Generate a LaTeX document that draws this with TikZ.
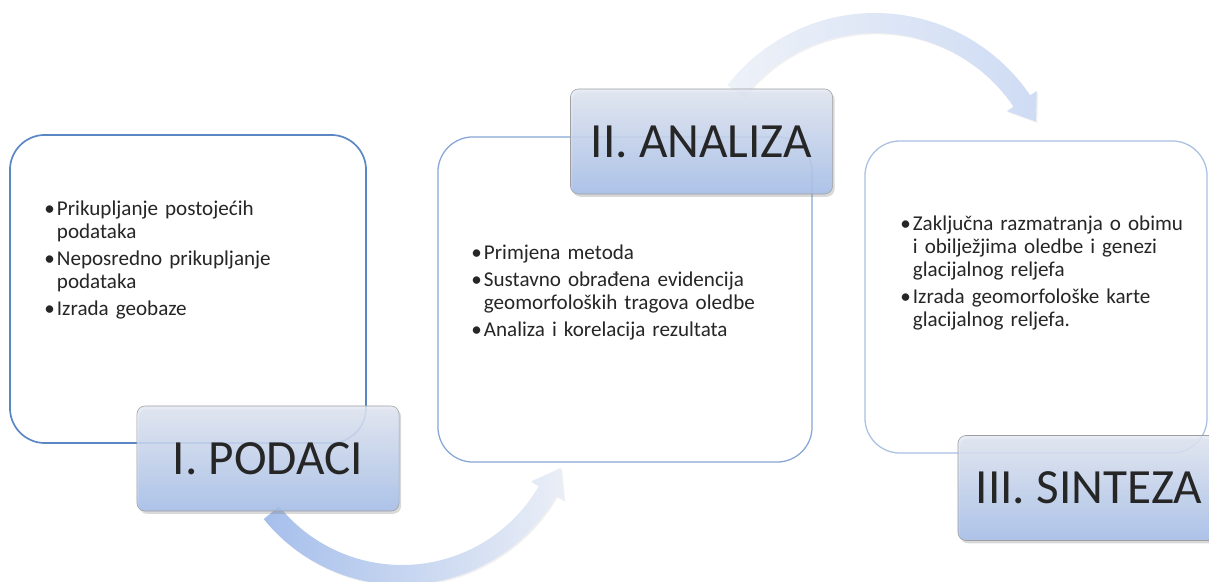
\documentclass[tikz,border=0pt]{standalone}
\usepackage{fontspec}
\setmainfont{Carlito}
\usetikzlibrary{shadows}

\definecolor{okvirA}{HTML}{5A86C4}
\definecolor{okvirB}{HTML}{86A6D6}
\definecolor{okvirC}{HTML}{A9C0E2}
\definecolor{naslovGore}{HTML}{DCE3F1}
\definecolor{naslovDolje}{HTML}{A6BFEB}
\definecolor{tekstSiva}{HTML}{262626}

\newcommand{\stavka}[1]{\par\hangindent=9pt\hangafter=1\noindent\makebox[9pt][l]{\textbullet}#1\par\vspace{2.8pt}}

\begin{document}
\begin{tikzpicture}[x=0.025cm,y=-0.025cm,
  okvir/.style={draw,rounded corners=0.875cm,fill=white},
  naslov/.style={draw=gray!75,rounded corners=0.2cm,top color=naslovGore!80!white,bottom color=naslovDolje,
    fill opacity=0.85,text opacity=1,minimum width=6.55cm,minimum height=2.625cm,inner sep=0pt,
    text=tekstSiva,font=\fontsize{35}{42}\selectfont,
    drop shadow={shadow xshift=1.5pt,shadow yshift=-2pt,opacity=0.3}},
  tekst/.style={anchor=north west,text width=7.5cm,inner sep=0pt,align=left,text=tekstSiva,
    font=\fontsize{15}{16.4}\selectfont},
  strelica/.style={drop shadow={shadow xshift=1pt,shadow yshift=-1pt,opacity=0.12}}]
\useasboundingbox (0,0) rectangle (1209,582);

\coordinate (o1) at (402,407);
\coordinate (o2) at (875,200);

\shade[strelica,left color=naslovDolje,right color=naslovGore!60!white]
  ([shift={(141:178)}]o1) arc[start angle=141,end angle=30,radius=178]
  -- ([shift={(30:187)}]o1) -- ([shift={(21:170)}]o1) -- ([shift={(30:149)}]o1)
  -- ([shift={(30:158)}]o1) arc[start angle=30,end angle=141,radius=158] -- cycle;
\shade[strelica,left color=naslovGore!50!white,right color=naslovDolje!55!white]
  ([shift={(218:187)}]o2) arc[start angle=218,end angle=326,radius=187]
  -- ([shift={(326:195)}]o2) -- ([shift={(334:179)}]o2) -- ([shift={(326:159)}]o2)
  -- ([shift={(326:167)}]o2) arc[start angle=326,end angle=218,radius=167] -- cycle;

\node[okvir,draw=okvirA,line width=1.2pt,minimum width=8.9cm,minimum height=7.7cm] (b1) at (188,289) {};
\node[okvir,draw=okvirB,line width=0.9pt,minimum width=9.35cm,minimum height=8.125cm] (b2) at (625,299.5) {};
\node[okvir,draw=okvirC,line width=0.9pt,minimum width=8.55cm,minimum height=7.8cm] (b3) at (1036,297) {};

\node[tekst] (t1) at (44,192) {%
  \stavka{Prikupljanje postojećih\newline podataka}
  \stavka{Neposredno prikupljanje\newline podataka}
  \stavka{Izrada geobaze}};
\node[tekst] (t2) at (471,236) {%
  \stavka{Primjena metoda}
  \stavka{Sustavno obrađena evidencija\newline geomorfoloških tragova oledbe}
  \stavka{Analiza i korelacija rezultata}};
\node[tekst] (t3) at (900,207) {%
  \stavka{Zaključna razmatranja o obimu\newline i obilježjima oledbe i genezi\newline glacijalnog reljefa}
  \stavka{Izrada geomorfološke karte\newline glacijalnog reljefa.}};

\node[naslov] (n1) at (268,458.5) {I. PODACI};
\node[naslov] (n2) at (701.5,141.5) {II. ANALIZA};
\node[naslov] (n3) at (1089,488) {III. SINTEZA};

\end{tikzpicture}
\end{document}
